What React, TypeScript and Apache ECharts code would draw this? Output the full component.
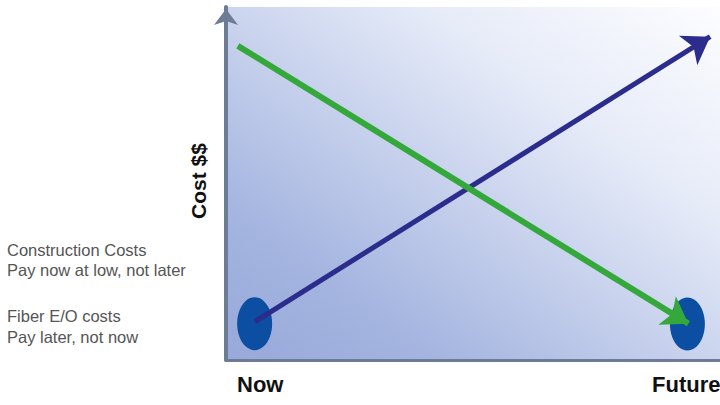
import React, { useEffect, useRef } from "react";
import * as echarts from "echarts";

// Data (x: 0 = Now, 100 = Future; y: cost 0..100)
const constructionCosts = [
  [2.4, 89.0],
  [93.6, 10.3],
];
const fiberCosts = [
  [5.9, 10.9],
  [98.0, 91.6],
];
const markers = [
  [5.8, 10.3],
  [93.4, 10.2],
];
const xTickLabels = ["Now", "Future"];
const yAxisTitle = "Cost $$";
const noteLines = [
  "Construction Costs",
  "Pay now at low, not later",
  "Fiber E/O costs",
  "Pay later, not now",
];

export default function App() {
  const ref = useRef<HTMLDivElement>(null);
  useEffect(() => {
    if (!ref.current) return;
    const chart = echarts.init(ref.current, null, { renderer: "svg" });
    const axisColor = "#6b7c94";
    const noteY = [250, 270, 316, 337];
    chart.setOption({
      animation: false,
      grid: {
        left: 226,
        right: 0,
        top: 7,
        bottom: 45,
        show: true,
        borderWidth: 0,
        backgroundColor: new echarts.graphic.LinearGradient(0, 1, 1, 0, [
          { offset: 0, color: "#97a8da" },
          { offset: 0.22, color: "#a5b5e0" },
          { offset: 0.7, color: "#e6ebf8" },
          { offset: 1, color: "#fdfdff" },
        ]),
      },
      xAxis: {
        type: "value",
        min: 0,
        max: 100,
        axisLine: { show: true, lineStyle: { color: axisColor, width: 3 } },
        axisTick: { show: false },
        axisLabel: { show: false },
        splitLine: { show: false },
      },
      yAxis: {
        type: "value",
        min: 0,
        max: 100,
        axisLine: {
          show: true,
          symbol: ["none", "arrow"],
          symbolSize: [18, 16],
          symbolOffset: [0, -2],
          lineStyle: { color: axisColor, width: 4 },
        },
        axisTick: { show: false },
        axisLabel: { show: false },
        splitLine: { show: false },
      },
      series: [
        {
          type: "scatter",
          data: markers,
          symbol: "circle",
          symbolSize: [35, 53],
          itemStyle: { color: "#0b4ea2", opacity: 1 },
          z: 1,
        },
        {
          type: "lines",
          coordinateSystem: "cartesian2d",
          data: [{ coords: fiberCosts }],
          symbol: ["none", "arrow"],
          symbolSize: 26,
          lineStyle: { color: "#2b2c8c", width: 5, opacity: 1 },
          z: 2,
        },
        {
          type: "lines",
          coordinateSystem: "cartesian2d",
          data: [{ coords: constructionCosts }],
          symbol: ["none", "arrow"],
          symbolSize: 25,
          lineStyle: { color: "#35a83c", width: 6, opacity: 1 },
          z: 3,
        },
      ],
      graphic: [
        ...noteLines.map((t, i) => ({
          type: "text",
          left: 7,
          top: noteY[i] - 9,
          style: {
            text: t,
            fill: "#555555",
            font: "16.5px 'Liberation Sans'",
          },
        })),
        {
          type: "text",
          x: 237,
          y: 384,
          style: {
            text: xTickLabels[0],
            fill: "#111111",
            font: "bold 22px 'Liberation Sans'",
            verticalAlign: "middle",
          },
        },
        {
          type: "text",
          x: 652,
          y: 384,
          style: {
            text: xTickLabels[1],
            fill: "#111111",
            font: "bold 22px 'Liberation Sans'",
            verticalAlign: "middle",
          },
        },
        {
          type: "text",
          x: 198,
          y: 181,
          rotation: Math.PI / 2,
          style: {
            text: yAxisTitle,
            fill: "#111111",
            font: "bold 21px 'Liberation Sans'",
            align: "center",
            verticalAlign: "middle",
          },
        },
      ],
    });
    return () => chart.dispose();
  }, []);
  return (
    <div
      ref={ref}
      style={{ position: "absolute", left: 0, top: 0, width: 720, height: 405 }}
    />
  );
}
